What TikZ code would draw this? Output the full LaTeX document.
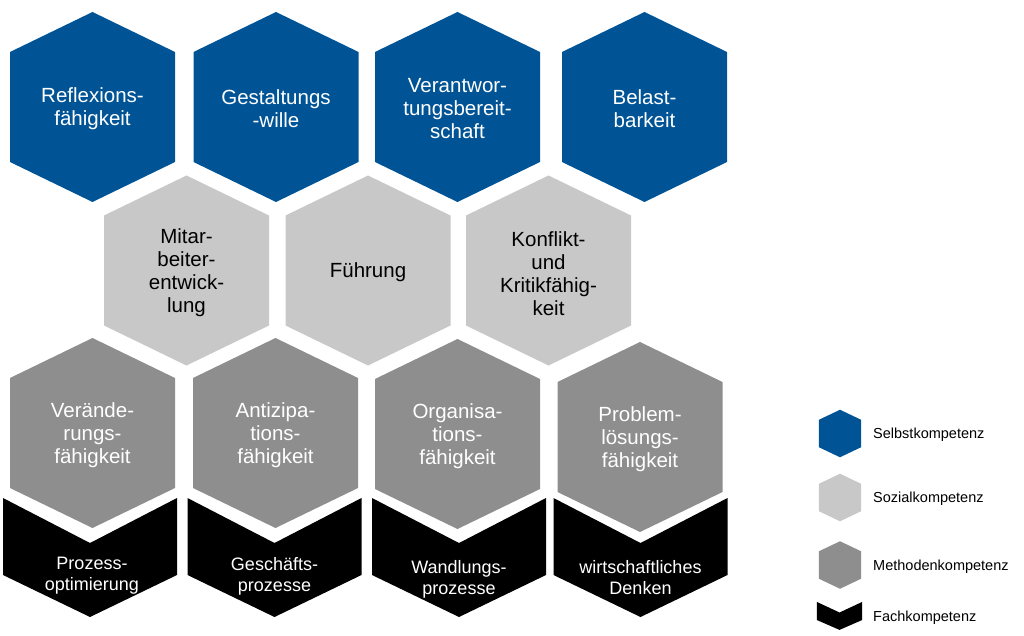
\documentclass[tikz,border=0pt]{standalone}
\usepackage{fontspec}
\setmainfont{Liberation Sans}
\definecolor{selbst}{RGB}{0,84,150}
\definecolor{sozial}{RGB}{200,200,200}
\definecolor{methode}{RGB}{142,142,142}
\definecolor{fach}{RGB}{0,0,0}
\tikzset{
  hexa/.pic={\fill (0,-95) -- (82.5,-55) -- (82.5,55) -- (0,95) -- (-82.5,55) -- (-82.5,-55) -- cycle;},
  chevron/.pic={\fill (-87,-45) -- (0,0) -- (87,-45) -- (87,32) -- (0,74) -- (-87,32) -- cycle;},
  bigtxt/.style={align=center, inner sep=0pt, yshift=-2pt, font=\fontsize{20.5}{23}\selectfont},
  wtxt/.style={bigtxt, text=white},
  ktxt/.style={bigtxt, text=black},
  ftxt/.style={align=center, inner sep=0pt, yshift=-2pt, text=white, font=\fontsize{18}{21}\selectfont},
  legtxt/.style={anchor=west, inner sep=0pt, font=\fontsize{14.5}{17}\selectfont},
}
\begin{document}
\begin{tikzpicture}[x=1pt,y=-1pt]
\useasboundingbox (0,0) rectangle (1024,636);
% row 1: Selbstkompetenz
\pic[fill=selbst] at (92.5,107) {hexa};
\pic[fill=selbst] at (276,107) {hexa};
\pic[fill=selbst] at (457.5,107) {hexa};
\pic[fill=selbst] at (644.5,107) {hexa};
\node[wtxt] (refl) at (92.5,107) {Reflexions-\\fähigkeit};
\node[wtxt] (gest) at (276,107) {Gestaltungs\\-wille};
\node[wtxt] (vera) at (457.5,107) {Verantwor-\\tungsbereit-\\schaft};
\node[wtxt] (bela) at (644.5,107) {Belast-\\barkeit};
% row 2: Sozialkompetenz
\pic[fill=sozial] at (186.5,270.5) {hexa};
\pic[fill=sozial] at (368,270.5) {hexa};
\pic[fill=sozial] at (548.5,270.5) {hexa};
\node[ktxt] (mita) at (186.5,270.5) {Mitar-\\beiter-\\entwick-\\lung};
\node[ktxt] (fuehr) at (368,270.5) {Führung};
\node[ktxt] (konf) at (548.5,271.5) {Konflikt-\\und\\Kritikfähig-\\keit};
% row 3: Methodenkompetenz
\pic[fill=methode] at (92.5,433) {hexa};
\pic[fill=methode] at (275.5,433) {hexa};
\pic[fill=methode] at (457.5,434) {hexa};
\pic[fill=methode] at (640,437) {hexa};
\node[wtxt] (vera2) at (92.5,433) {Verände-\\rungs-\\fähigkeit};
\node[wtxt] (anti) at (275.5,433) {Antizipa-\\tions-\\fähigkeit};
\node[wtxt] (orga) at (457.5,434) {Organisa-\\tions-\\fähigkeit};
\node[wtxt] (prob) at (640,437) {Problem-\\lösungs-\\fähigkeit};
% row 4: Fachkompetenz
\pic[fill=fach] at (90,543) {chevron};
\pic[fill=fach] at (274.5,543) {chevron};
\pic[fill=fach] at (459,543) {chevron};
\pic[fill=fach] at (640.5,543) {chevron};
\node[ftxt] (proz) at (92,574) {Prozess-\\optimierung};
\node[ftxt] (gesch) at (274.5,574) {Geschäfts-\\prozesse};
\node[ftxt] (wand) at (459,577) {Wandlungs-\\prozesse};
\node[ftxt] (wirt) at (640.5,576) {wirtschaftliches\\Denken};
% legend
\pic[fill=selbst, xscale=0.255, yscale=0.25] at (840,433.5) {hexa};
\pic[fill=sozial, xscale=0.255, yscale=0.25] at (840,497.5) {hexa};
\pic[fill=methode, xscale=0.255, yscale=0.25] at (840,565) {hexa};
\pic[fill=fach, xscale=0.26, yscale=0.235] at (839.5,612.5) {chevron};
\node[legtxt] (lselbst) at (873,435) {Selbstkompetenz};
\node[legtxt] (lsozial) at (873,499) {Sozialkompetenz};
\node[legtxt] (lmethode) at (873,567) {Methodenkompetenz};
\node[legtxt] (lfach) at (873,618) {Fachkompetenz};
\end{tikzpicture}
\end{document}
